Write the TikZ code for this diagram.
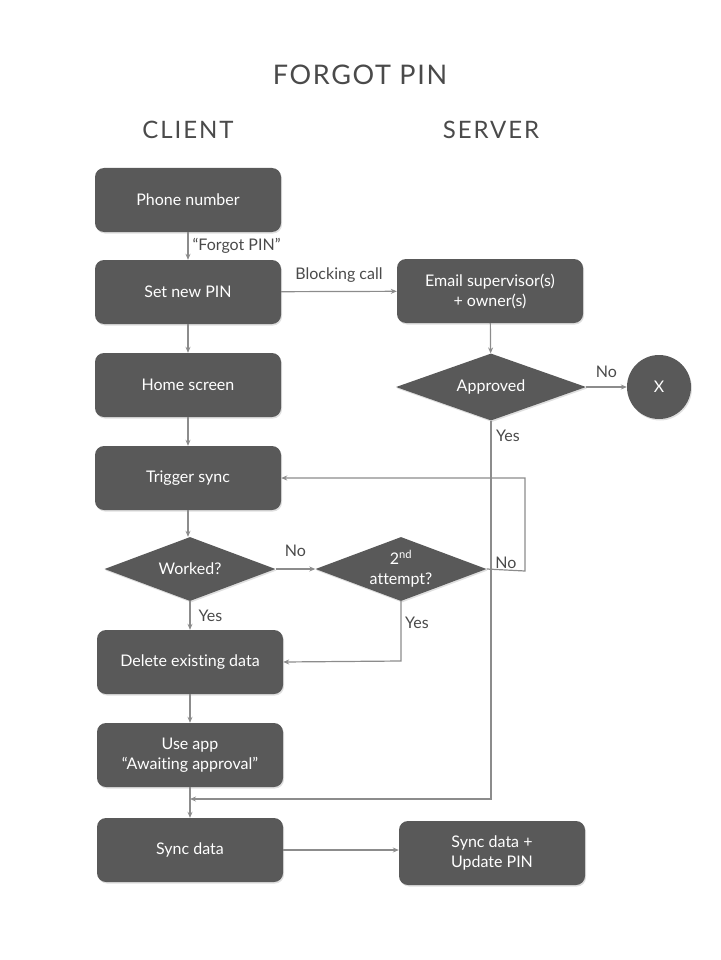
\documentclass[tikz,border=0pt]{standalone}
\usepackage{fontspec}
\setmainfont{Lato}[Ligatures=NoCommon]
\usetikzlibrary{shapes.geometric,arrows.meta,shadows}
\definecolor{boxfill}{HTML}{595959}
\definecolor{linegray}{HTML}{8C8C8C}
\definecolor{txtgray}{HTML}{4A4A4A}
\begin{document}
\begin{tikzpicture}[x=1pt,y=-1pt,
  stepbox/.style={draw=none,fill=boxfill,rounded corners=9pt,minimum width=186pt,minimum height=64pt,text=white,font=\fontsize{16}{20}\selectfont,align=center,inner sep=0pt,drop shadow={shadow xshift=1pt,shadow yshift=-1.5pt,opacity=0.25}},
  decide/.style={diamond,fill=boxfill,aspect=2.67,minimum width=171pt,minimum height=64pt,inner sep=0pt,text=white,font=\fontsize{16}{20}\selectfont,align=center,drop shadow={shadow xshift=1pt,shadow yshift=-1.5pt,opacity=0.25}},
  endc/.style={circle,fill=boxfill,minimum size=64pt,inner sep=0pt,text=white,font=\fontsize{16}{20}\selectfont,drop shadow={shadow xshift=1pt,shadow yshift=-1.5pt,opacity=0.25}},
  conn/.style={draw=linegray,line width=1.2pt,-{Stealth[length=6pt,width=5pt]}},
  lbl/.style={text=txtgray,font=\fontsize{16}{20}\selectfont,inner sep=0pt},
  head/.style={text=txtgray,font=\fontsize{24}{28}\selectfont\addfontfeatures{LetterSpace=8}},
]
\useasboundingbox (0,0) rectangle (720,960);
\node[head,font=\fontsize{27}{30}\selectfont\addfontfeatures{LetterSpace=6}] (title) at (360,75) {FORGOT PIN};
\node[head] (client) at (188,130) {CLIENT};
\node[head] (server) at (491,130) {SERVER};

\node[stepbox] (phone) at (188,200) {Phone number};
\node[stepbox] (setpin) at (188,292) {Set new PIN};
\node[stepbox] (home) at (188,385) {Home screen};
\node[stepbox] (trigger) at (188,478) {Trigger sync};
\node[decide] (worked) at (190,569) {Worked?};
\node[decide] (second) at (401,569) {2\textsuperscript{nd}\\attempt?};
\node[stepbox] (delete) at (190,662) {Delete existing data};
\node[stepbox] (useapp) at (190,755) {Use app\\“Awaiting approval”};
\node[stepbox] (sync) at (190,850) {Sync data};
\node[stepbox] (email) at (490,291) {Email supervisor(s)\\+ owner(s)};
\node[decide,minimum width=190pt,minimum height=67pt] (approved) at (491,387) {Approved};
\node[endc] (x) at (659,387) {X};
\node[stepbox] (syncsrv) at (492,853) {Sync data +\\Update PIN};

\coordinate (j1) at (525,571);
\coordinate (j2) at (525,478);
\coordinate (j3) at (401,661);
\coordinate (j4) at (491,799);
\coordinate (j5) at (190,799);

\draw[conn] (phone) -- (setpin) node[lbl,midway,right=4pt] {“Forgot PIN”};
\draw[conn] (setpin) -- (email) node[lbl,midway,above=8pt] {Blocking call};
\draw[conn] (setpin) -- (home);
\draw[conn] (home) -- (trigger);
\draw[conn] (trigger.south) -- (trigger.south |- worked.north);
\draw[conn] (worked) -- (second) node[lbl,pos=0.5,above=12pt] {No};
\draw[conn] (second.east) -- (j1) -- (j2) -- (trigger.east);
\node[lbl] (no2) at (506,563) {No};
\draw[conn] (second.south) -- (j3) -- (delete.east);
\node[lbl] (yes2) at (417,623) {Yes};
\draw[conn] (worked) -- (delete) node[lbl,midway,right=8pt] {Yes};
\draw[conn] (delete) -- (useapp);
\draw[conn] (useapp) -- (sync);
\draw[conn] (email) -- (approved);
\draw[conn] (approved) -- (x) node[lbl,midway,above=9pt] {No};
\draw[conn] (approved.south) -- (j4) -- (j5);
\node[lbl] (yes1) at (508,436) {Yes};
\draw[conn] (sync.east) -- (sync.east -| syncsrv.west);
\end{tikzpicture}
\end{document}
